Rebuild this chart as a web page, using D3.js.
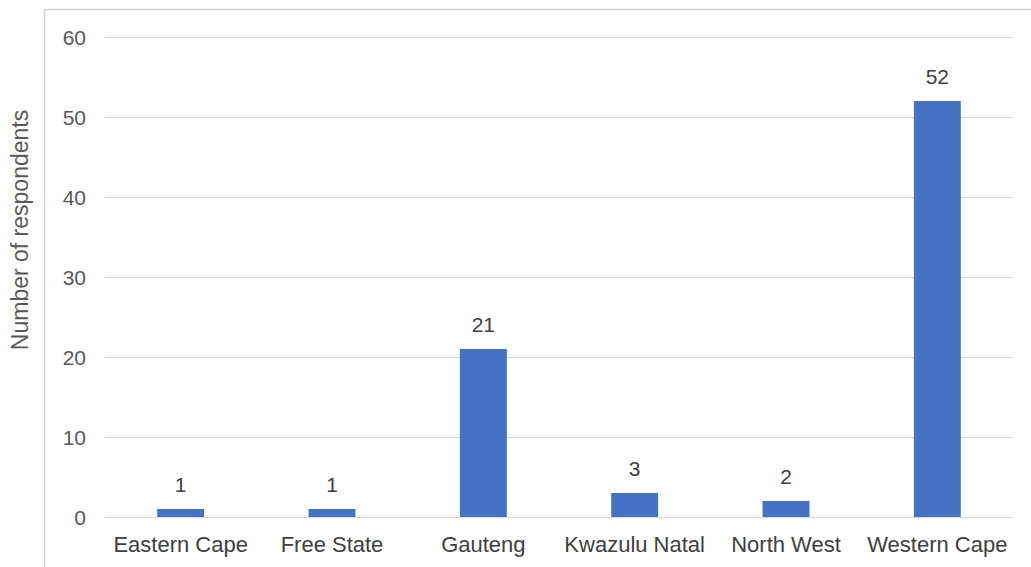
<!DOCTYPE html>
<html>
<head>
<meta charset="utf-8">
<script src="https://cdn.jsdelivr.net/npm/d3@7"></script>
<style>
  body { margin: 0; background: #fff; }
  svg { display: block; font-family: "Liberation Sans", Arial, sans-serif; }
</style>
</head>
<body>
<svg id="chart" width="1031" height="567"></svg>
<script>
"use strict";

let width = 1031;
let height = 567;

let provinces = ["Eastern Cape", "Free State", "Gauteng", "Kwazulu Natal", "North West", "Western Cape"];
let respondents = [1, 1, 21, 3, 2, 52];
let yTicks = [0, 10, 20, 30, 40, 50, 60];

let svg = d3.select("#chart");

// outer frame (only left and top edges show)
svg.append("path")
  .attr("d", `M44.5,${height} V9.5 H${width}`)
  .attr("fill", "none")
  .attr("stroke", "#d4d4d4")
  .attr("stroke-width", 1.5);

let x = d3.scaleBand()
  .domain(provinces)
  .range([105, 1013])
  .paddingInner(0.69)
  .paddingOuter(0.345);

let y = d3.scaleLinear()
  .domain([0, 60])
  .range([517, 37]);

// grid
svg.append("g")
  .selectAll("line")
  .data(yTicks)
  .join("line")
  .attr("x1", 105)
  .attr("x2", 1013)
  .attr("y1", d => Math.round(y(d)) + 0.5)
  .attr("y2", d => Math.round(y(d)) + 0.5)
  .attr("stroke", "#d9d9d9")
  .attr("stroke-width", 1);

// y axis labels
let yAxis = svg.append("g")
  .attr("transform", "translate(86,0)")
  .call(d3.axisLeft(y).tickValues(yTicks).tickSize(0).tickPadding(0));
yAxis.select(".domain").remove();
yAxis.selectAll("text")
  .attr("fill", "#595959")
  .style("font-size", "21px")
  .attr("dy", "0.36em");

// x axis labels
let xAxis = svg.append("g")
  .attr("transform", "translate(0,517)")
  .call(d3.axisBottom(x).tickSize(0));
xAxis.select(".domain").remove();
xAxis.selectAll("text")
  .attr("y", 35)
  .attr("dy", 0)
  .attr("fill", "#404040")
  .style("font-size", "22px");

// bars
svg.append("g")
  .selectAll("rect")
  .data(provinces)
  .join("rect")
  .attr("x", d => x(d))
  .attr("width", x.bandwidth())
  .attr("y", (d, i) => y(respondents[i]))
  .attr("height", (d, i) => y(0) - y(respondents[i]))
  .attr("fill", "#4472c4");

// value labels
svg.append("g")
  .selectAll("text")
  .data(provinces)
  .join("text")
  .attr("x", d => x(d) + x.bandwidth() / 2)
  .attr("y", (d, i) => y(respondents[i]) - 17)
  .attr("text-anchor", "middle")
  .attr("fill", "#404040")
  .style("font-size", "21px")
  .text((d, i) => respondents[i]);

// y title
svg.append("text")
  .attr("transform", "translate(28,230) rotate(-90)")
  .attr("text-anchor", "middle")
  .attr("fill", "#595959")
  .style("font-size", "23px")
  .text("Number of respondents");
</script>
</body>
</html>
